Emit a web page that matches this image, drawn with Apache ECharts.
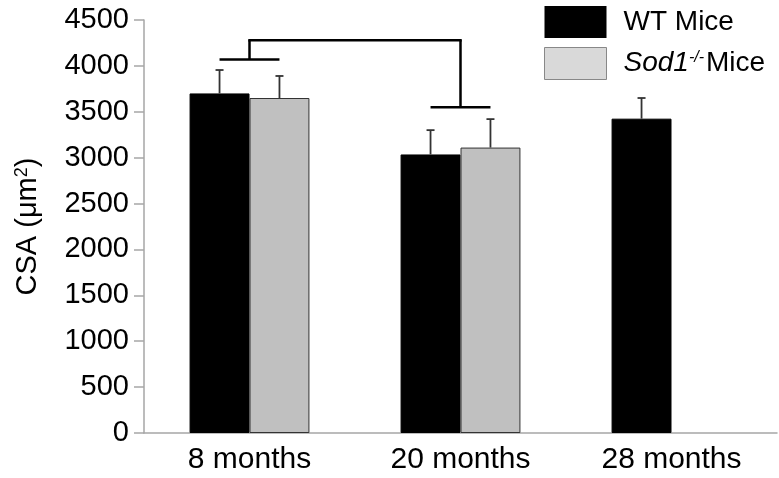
<!DOCTYPE html>
<html>
<head>
<meta charset="utf-8">
<style>html,body{margin:0;padding:0;background:#fff}#c{width:779px;height:478px}</style>
<script src="https://cdn.jsdelivr.net/npm/echarts@6/dist/echarts.min.js"></script>
</head>
<body>
<div id="c"></div>
<script>
var categories = ['8 months', '20 months', '28 months'];
var wtMean = [3700, 3035, 3425];
var wtErrTop = [3955, 3300, 3650];
var sodMean = [3650, 3110, null];
var sodErrTop = [3890, 3420, null];
var yTicks = [0, 500, 1000, 1500, 2000, 2500, 3000, 3500, 4000, 4500];
// significance bracket: [category, short bar y, top y, connect-to category]
var bracket = [[0, 4070, 4280, 1], [1, 3550, 4280, null]];

var FONT = 'Liberation Sans';
var BAR_FRAC = 0.284;

var errData = [];
for (var i = 0; i < categories.length; i++) {
  if (wtErrTop[i] != null) errData.push([i, 0, wtMean[i], wtErrTop[i]]);
  if (sodErrTop[i] != null) errData.push([i, 1, sodMean[i], sodErrTop[i]]);
}

var chart = echarts.init(document.getElementById('c'), null, {renderer: 'canvas'});
chart.setOption({
  animation: false,
  grid: {left: 144, right: 2, top: 20, bottom: 45, containLabel: false},
  legend: {
    orient: 'vertical', left: 539, top: 1,
    itemWidth: 62, itemHeight: 32, itemGap: 9,
    icon: 'rect',
    textStyle: {fontFamily: FONT, fontSize: 28, color: '#000', padding: [0, 0, 0, 12],
      rich: {
        n: {fontFamily: FONT, fontSize: 28, color: '#000'},
        i: {fontFamily: FONT, fontSize: 28, fontStyle: 'italic', color: '#000'},
        s: {fontFamily: FONT, fontSize: 16, fontStyle: 'italic', color: '#000', verticalAlign: 'top', padding: [0, 2, 10, 0]}
      }
    },
    formatter: function (name) {
      if (name === 'Sod1') return '{i|Sod1}{s|-/-}{n|Mice}';
      return '{n|' + name + '}';
    },
    data: [
      {name: 'WT Mice', itemStyle: {color: '#000', borderColor: '#000', borderWidth: 0}},
      {name: 'Sod1', itemStyle: {color: '#d9d9d9', borderColor: '#888', borderWidth: 1}}
    ]
  },
  xAxis: {
    type: 'category', data: categories,
    axisLine: {lineStyle: {color: '#a6a6a6', width: 1.5}},
    axisTick: {show: false},
    axisLabel: {fontFamily: FONT, fontSize: 30, color: '#000', margin: 12}
  },
  yAxis: {
    type: 'value', min: 0, max: 4500, interval: 500,
    name: '{a|CSA (μm}{b|2}{a|)}',
    nameLocation: 'middle', nameGap: 102, nameRotate: 90,
    nameTextStyle: {
      rich: {
        a: {fontFamily: FONT, fontSize: 29, color: '#000'},
        b: {fontFamily: FONT, fontSize: 18, color: '#000', verticalAlign: 'top', padding: [0, 0, 10, 0]}
      }
    },
    axisLine: {show: true, lineStyle: {color: '#a6a6a6', width: 1.5}},
    axisTick: {show: true, length: 10, lineStyle: {color: '#a6a6a6', width: 1.5}},
    splitLine: {show: false},
    axisLabel: {fontFamily: FONT, fontSize: 29, color: '#000', margin: 15,
      formatter: function (v) { return yTicks.indexOf(v) >= 0 ? String(v) : ''; }}
  },
  series: [
    {name: 'WT Mice', type: 'bar', data: wtMean, barWidth: (BAR_FRAC * 100) + '%', barGap: '0%',
      itemStyle: {color: '#000', borderColor: '#000', borderWidth: 1}},
    {name: 'Sod1', type: 'bar', data: sodMean, barWidth: (BAR_FRAC * 100) + '%', barGap: '0%',
      itemStyle: {color: '#c0c0c0', borderColor: '#333', borderWidth: 1}},
    {type: 'custom', name: 'err', data: errData, z: 5,
      renderItem: function (params, api) {
        var cat = api.value(0), s = api.value(1);
        var band = api.size([1, 0])[0];
        var bw = band * BAR_FRAC;
        var off = s === 0 ? -bw / 2 : bw / 2;
        var p0 = api.coord([cat, api.value(2)]);
        var p1 = api.coord([cat, api.value(3)]);
        var x = p0[0] + off;
        var st = {stroke: '#333', lineWidth: 1.8};
        return {type: 'group', children: [
          {type: 'line', shape: {x1: x, y1: p0[1], x2: x, y2: p1[1]}, style: st},
          {type: 'line', shape: {x1: x - 4, y1: p1[1], x2: x + 4, y2: p1[1]}, style: st}
        ]};
      }},
    {type: 'custom', name: 'bracket', data: bracket, z: 5,
      renderItem: function (params, api) {
        var cat = api.value(0);
        var band = api.size([1, 0])[0];
        var bw = band * BAR_FRAC;
        var pl = api.coord([cat, api.value(1)]);
        var pt = api.coord([cat, api.value(2)]);
        var st = {stroke: '#000', lineWidth: 2.5};
        var ch = [
          {type: 'line', shape: {x1: pl[0] - bw / 2, y1: pl[1], x2: pl[0] + bw / 2, y2: pl[1]}, style: st},
          {type: 'line', shape: {x1: pl[0], y1: pl[1], x2: pl[0], y2: pt[1]}, style: st}
        ];
        var nx = api.value(3);
        if (nx != null && !isNaN(nx)) {
          var pn = api.coord([nx, api.value(2)]);
          ch.push({type: 'line', shape: {x1: pt[0] - 1.25, y1: pt[1], x2: pn[0] + 1.25, y2: pn[1]}, style: st});
        }
        return {type: 'group', children: ch};
      }}
  ]
});
</script>
</body>
</html>
